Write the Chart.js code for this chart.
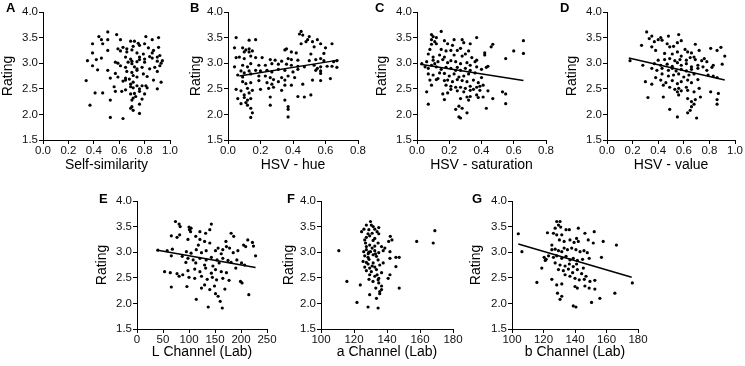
<!DOCTYPE html>
<html><head><meta charset="utf-8">
<script src="https://cdn.jsdelivr.net/npm/chart.js@4.4.1/dist/chart.umd.min.js"></script>
<style>
html,body{margin:0;padding:0;background:#fff;width:745px;height:366px;overflow:hidden;position:relative;}
canvas{position:absolute;}
.lbl{position:absolute;font:bold 13px 'Liberation Sans',Arial,sans-serif;line-height:13px;color:#000;}
</style></head><body>
<script>
// ---------- data ----------
const ratingTicks = [1.5, 2.0, 2.5, 3.0, 3.5, 4.0];
const selfSimTicks = [0, 0.2, 0.4, 0.6, 0.8, 1.0];
const hueTicks = [0, 0.2, 0.4, 0.6, 0.8];
const satTicks = [0, 0.2, 0.4, 0.6, 0.8];
const valueTicks = [0, 0.2, 0.4, 0.6, 0.8, 1.0];
const lTicks = [0, 50, 100, 150, 200, 250];
const aTicks = [100, 120, 140, 160, 180];
const bTicks = [100, 120, 140, 160, 180];

const panelLetters = ['A','B','C','D','E','F','G'];
const xTitles = ['Self-similarity','HSV - hue','HSV - saturation','HSV - value','L Channel (Lab)','a Channel (Lab)','b Channel (Lab)'];
const yTitle = 'Rating';

const ptsA = [
[0.51,3.61],[0.44,3.52],[0.58,3.56],[0.46,3.46],[0.51,3.46],[0.81,3.52],[0.91,3.50],[0.61,3.46],
[0.39,3.38],[0.47,3.38],[0.69,3.43],[0.72,3.43],[0.75,3.39],[0.86,3.46],[0.80,3.38],
[0.51,3.25],[0.59,3.28],[0.63,3.31],[0.66,3.28],[0.71,3.33],[0.76,3.35],[0.83,3.30],[0.91,3.31],[0.70,3.26],
[0.39,3.20],[0.61,3.24],[0.66,3.22],[0.74,3.20],[0.79,3.18],[0.86,3.20],[0.87,3.25],
[0.42,3.07],[0.46,3.10],[0.65,3.12],[0.69,3.08],[0.76,3.12],[0.84,3.13],[0.80,3.08],[0.86,3.10],[0.90,3.12],[0.92,3.15],
[0.35,3.05],[0.57,3.02],[0.59,3.00],[0.67,3.02],[0.70,3.04],[0.76,3.07],[0.80,3.02],[0.90,3.04],[0.93,3.00],[0.94,3.05],[0.70,2.99],[0.74,3.03],
[0.39,2.95],[0.43,2.87],[0.61,2.95],[0.65,2.92],[0.72,2.93],[0.74,2.89],[0.78,2.92],[0.84,2.89],[0.88,2.92],[0.92,2.95],
[0.51,2.86],[0.57,2.80],[0.66,2.84],[0.70,2.82],[0.74,2.86],[0.79,2.79],[0.90,2.84],
[0.53,2.71],[0.59,2.73],[0.65,2.71],[0.68,2.69],[0.71,2.76],[0.74,2.73],[0.82,2.74],[0.87,2.67],[0.65,2.67],
[0.34,2.66],[0.63,2.65],[0.69,2.59],[0.71,2.63],[0.93,2.63],[0.74,2.56],[0.78,2.56],[0.81,2.56],
[0.56,2.54],[0.65,2.48],[0.71,2.52],[0.76,2.50],[0.82,2.52],[0.90,2.50],[0.69,2.54],
[0.41,2.42],[0.47,2.42],[0.57,2.45],[0.62,2.45],[0.69,2.40],[0.72,2.41],[0.76,2.45],[0.80,2.40],
[0.53,2.28],[0.71,2.32],[0.73,2.35],[0.70,2.28],[0.78,2.30],
[0.37,2.18],[0.76,2.20],[0.70,2.15],[0.69,2.12],[0.71,2.08],[0.76,2.02],[0.53,1.94],[0.63,1.92]
];
const ptsB = [
[0.45,3.62],[0.44,3.57],[0.46,3.55],[0.50,3.52],[0.49,3.46],[0.05,3.50],[0.13,3.45],[0.17,3.46],[0.55,3.46],[0.52,3.42],[0.48,3.42],[0.57,3.38],[0.64,3.38],[0.45,3.38],
[0.04,3.30],[0.09,3.30],[0.11,3.26],[0.13,3.28],[0.15,3.24],[0.13,3.22],[0.10,3.22],[0.35,3.26],[0.36,3.28],[0.39,3.22],[0.53,3.32],[0.60,3.30],[0.42,3.20],[0.51,3.18],[0.59,3.19],
[0.05,3.11],[0.07,3.12],[0.10,3.09],[0.14,3.14],[0.17,3.11],[0.21,3.11],[0.26,3.07],[0.29,3.06],[0.33,3.04],[0.37,3.09],[0.39,3.07],[0.43,3.06],[0.50,3.05],[0.54,3.07],[0.59,3.05],[0.57,3.09],[0.65,3.03],[0.67,3.05],
[0.04,2.93],[0.09,2.96],[0.12,2.93],[0.14,2.99],[0.19,2.96],[0.23,2.96],[0.27,2.99],[0.31,2.98],[0.36,2.98],[0.39,2.96],[0.43,2.94],[0.47,2.93],[0.53,2.96],[0.57,2.93],[0.61,2.94],[0.64,2.94],[0.67,2.92],[0.55,2.90],
[0.08,2.85],[0.10,2.81],[0.13,2.85],[0.17,2.86],[0.20,2.85],[0.24,2.86],[0.27,2.83],[0.31,2.88],[0.35,2.86],[0.40,2.83],[0.43,2.88],[0.54,2.86],[0.57,2.85],[0.57,2.80],
[0.06,2.77],[0.09,2.73],[0.14,2.79],[0.19,2.75],[0.23,2.75],[0.26,2.72],[0.28,2.68],[0.33,2.72],[0.37,2.75],[0.41,2.72],[0.35,2.67],
[0.09,2.64],[0.11,2.60],[0.14,2.62],[0.19,2.66],[0.24,2.62],[0.27,2.59],[0.31,2.64],[0.35,2.57],[0.39,2.57],[0.46,2.59],[0.57,2.66],[0.52,2.67],[0.63,2.70],
[0.05,2.49],[0.08,2.46],[0.12,2.51],[0.15,2.47],[0.20,2.49],[0.25,2.51],[0.28,2.53],[0.33,2.47],[0.13,2.42],[0.10,2.38],
[0.06,2.31],[0.10,2.33],[0.12,2.28],[0.14,2.31],[0.26,2.34],[0.43,2.35],[0.47,2.34],[0.51,2.38],[0.35,2.28],
[0.08,2.21],[0.11,2.23],[0.26,2.18],[0.37,2.15],[0.37,2.10],[0.14,2.12],[0.12,2.18],
[0.15,2.03],[0.14,1.94],[0.37,1.95]
];
const ptsC = [
[0.15,3.62],[0.09,3.56],[0.10,3.52],[0.09,3.46],[0.12,3.50],[0.11,3.42],[0.17,3.44],[0.23,3.46],[0.28,3.46],[0.37,3.50],[0.29,3.40],[0.19,3.38],[0.66,3.44],[0.22,3.35],[0.33,3.38],[0.09,3.37],[0.12,3.38],
[0.08,3.27],[0.15,3.27],[0.18,3.24],[0.21,3.25],[0.25,3.25],[0.27,3.29],[0.32,3.24],[0.47,3.37],[0.46,3.32],[0.42,3.20],[0.60,3.24],[0.66,3.19],
[0.07,3.18],[0.10,3.12],[0.14,3.16],[0.17,3.12],[0.23,3.16],[0.28,3.14],[0.30,3.18],[0.34,3.11],[0.42,3.16],[0.55,3.09],[0.37,3.06],
[0.03,2.99],[0.06,3.03],[0.10,3.06],[0.13,3.03],[0.16,3.07],[0.19,3.01],[0.21,3.05],[0.24,3.03],[0.27,2.99],[0.31,3.01],[0.36,3.03],[0.33,2.96],[0.09,2.96],[0.11,2.99],
[0.05,2.93],[0.07,2.90],[0.12,2.93],[0.15,2.88],[0.18,2.92],[0.21,2.90],[0.24,2.86],[0.25,2.92],[0.30,2.90],[0.33,2.86],[0.37,2.93],[0.40,2.88],[0.43,2.92],[0.44,2.94],[0.27,2.86],
[0.07,2.79],[0.10,2.77],[0.14,2.81],[0.17,2.80],[0.20,2.75],[0.23,2.79],[0.26,2.73],[0.29,2.75],[0.32,2.79],[0.36,2.81],[0.13,2.70],
[0.08,2.67],[0.12,2.68],[0.17,2.66],[0.19,2.67],[0.22,2.64],[0.25,2.68],[0.28,2.66],[0.31,2.64],[0.35,2.67],[0.38,2.62],[0.40,2.72],
[0.09,2.57],[0.18,2.57],[0.21,2.55],[0.24,2.53],[0.27,2.53],[0.33,2.55],[0.37,2.53],[0.39,2.55],[0.41,2.57],[0.30,2.51],
[0.06,2.44],[0.21,2.49],[0.25,2.46],[0.29,2.44],[0.33,2.47],[0.35,2.49],[0.39,2.47],[0.44,2.46],[0.53,2.44],[0.16,2.40],[0.19,2.42],
[0.17,2.29],[0.27,2.31],[0.31,2.34],[0.33,2.35],[0.37,2.38],[0.38,2.33],[0.41,2.34],[0.47,2.31],[0.55,2.40],[0.32,2.28],
[0.07,2.20],[0.55,2.21],[0.26,2.16],[0.24,2.10],[0.28,2.12],[0.43,2.12],
[0.31,2.03],[0.26,1.95],[0.27,1.93]
];
const ptsD = [
[0.31,3.61],[0.35,3.53],[0.33,3.48],[0.40,3.46],[0.42,3.50],[0.43,3.45],[0.48,3.53],[0.56,3.56],[0.37,3.42],[0.47,3.38],[0.52,3.33],[0.35,3.32],[0.69,3.37],[0.55,3.40],[0.58,3.44],
[0.27,3.35],[0.38,3.25],[0.49,3.32],[0.61,3.27],[0.81,3.29],[0.89,3.31],[0.86,3.25],
[0.45,3.19],[0.51,3.18],[0.55,3.22],[0.63,3.22],[0.66,3.20],[0.72,3.25],[0.58,3.14],[0.92,3.14],[0.68,3.12],
[0.18,3.05],[0.40,3.06],[0.45,3.07],[0.49,3.09],[0.53,3.05],[0.57,3.07],[0.62,3.06],[0.65,3.11],[0.69,3.07],[0.74,3.05],[0.76,3.09],[0.78,3.03],
[0.28,2.96],[0.37,2.99],[0.42,2.96],[0.47,2.98],[0.51,2.94],[0.55,3.01],[0.58,2.96],[0.62,2.99],[0.66,2.93],[0.71,2.96],[0.75,2.93],[0.90,2.98],[0.83,2.96],
[0.35,2.90],[0.39,2.86],[0.43,2.90],[0.48,2.86],[0.51,2.90],[0.54,2.85],[0.58,2.88],[0.62,2.85],[0.66,2.88],[0.71,2.90],[0.78,2.86],[0.82,2.92],
[0.43,2.79],[0.48,2.75],[0.52,2.77],[0.56,2.79],[0.60,2.73],[0.64,2.77],[0.68,2.79],[0.79,2.77],[0.83,2.75],[0.86,2.72],[0.38,2.72],
[0.30,2.64],[0.42,2.67],[0.46,2.62],[0.51,2.66],[0.55,2.60],[0.58,2.64],[0.63,2.67],[0.66,2.62],[0.71,2.68],[0.44,2.57],[0.35,2.59],
[0.49,2.53],[0.53,2.49],[0.56,2.51],[0.58,2.46],[0.63,2.47],[0.62,2.53],[0.68,2.44],[0.72,2.51],[0.81,2.44],[0.87,2.41],[0.55,2.44],
[0.32,2.33],[0.44,2.34],[0.56,2.38],[0.63,2.31],[0.69,2.29],[0.73,2.34],[0.86,2.29],[0.66,2.25],
[0.86,2.20],[0.68,2.20],[0.66,2.15],[0.49,2.10],[0.65,2.08],
[0.63,2.03],[0.55,1.95],[0.70,1.93]
];
const ptsE = [
[74,3.60],[81,3.55],[83,3.50],[100,3.49],[101,3.44],[104,3.47],[103,3.40],[143,3.55],[121,3.40],[132,3.37],[140,3.44],[113,3.31],[66,3.32],[77,3.29],[82,3.34],
[181,3.37],[186,3.31],[171,3.21],[98,3.25],[121,3.25],[130,3.21],[140,3.18],[118,3.14],[213,3.24],[222,3.19],[205,3.14],
[40,3.04],[58,3.03],[68,3.06],[95,3.01],[114,3.05],[124,2.99],[133,3.03],[151,3.03],[156,3.08],[165,3.05],[172,3.11],[178,3.08],[194,3.03],[209,3.11],[224,3.12],[228,2.93],[185,2.99],[104,2.98],[162,2.97],
[66,2.93],[87,2.92],[98,2.88],[108,2.85],[121,2.88],[133,2.85],[143,2.90],[154,2.85],[165,2.88],[175,2.84],[94,2.80],[113,2.79],[130,2.75],[146,2.73],[158,2.79],[181,2.80],[192,2.85],[201,2.79],[207,2.75],
[53,2.62],[64,2.60],[77,2.58],[88,2.56],[98,2.64],[111,2.67],[121,2.62],[132,2.69],[143,2.59],[151,2.66],[162,2.62],[172,2.60],[190,2.69],[100,2.51],
[111,2.49],[124,2.53],[135,2.47],[145,2.51],[153,2.46],[165,2.49],[177,2.45],[199,2.43],[202,2.40],[81,2.53],[66,2.32],[96,2.33],[124,2.30],[140,2.27],[149,2.34],[169,2.28],[130,2.36],
[151,2.19],[156,2.14],[215,2.17],[114,2.08],[160,2.04],[137,1.93],[164,1.91]
];
const ptsF = [
[130,3.60],[127.5,3.53],[131.6,3.50],[135,3.48],[126,3.45],[129,3.44],[134,3.40],[124.6,3.40],[128.5,3.36],[131,3.37],[135,3.36],[127.5,3.29],[129.5,3.32],[132.6,3.27],[126.5,3.24],[131.6,3.23],
[142,3.31],[143,3.24],[141,3.21],[134.6,3.18],[129.5,3.14],[132.6,3.12],[127.5,3.11],[136.7,3.11],[138.7,3.08],[158,3.21],[169,3.42],[168,3.18],
[110.8,3.03],[127.5,3.05],[130,3.01],[132.6,3.03],[135,2.99],[137.7,3.03],[128.6,2.97],[131.6,2.95],[126.5,2.93],[133.6,2.92],[141.8,3.01],[141.8,2.88],[145.4,2.90],[147.4,2.90],[129.1,2.86],[134.6,2.85],[125.5,2.82],
[128.5,2.77],[131.6,2.79],[135.6,2.75],[126.5,2.71],[129.5,2.69],[132.6,2.71],[145.4,2.72],[127.5,2.64],[130.5,2.62],[133.6,2.66],[136.7,2.60],[129.5,2.56],[132.6,2.53],[141.8,2.56],[140.7,2.49],[129.1,2.47],[134.6,2.46],
[115.7,2.43],[135,2.40],[123.8,2.36],[136.7,2.34],[133.2,2.30],[147.4,2.30],[135.6,2.23],[129.5,2.17],[135.6,2.19],[133.6,2.10],[121.8,2.02],[128.5,1.93],[134.6,1.91],
[130.5,3.53],[132.6,3.45],[127,3.18],[131,3.08],[129,3.00],[133,2.97],[127.5,2.80],[131,2.73],[134,2.56],[131.5,2.43],[135,2.49],[136.7,2.27],[137.7,2.79],[125.9,3.01],[128.5,2.90]
];
const ptsG = [
[104,3.36],[106.3,3.01],[115.8,2.41],[118.9,2.69],[120.4,2.90],[121.7,2.86],[121.1,2.84],[122.5,3.38],[125.3,2.47],[125.3,3.14],
[128.4,3.60],[130.5,3.60],[129.5,3.53],[127.4,3.47],[130.9,3.49],[126.3,3.37],[128.4,3.34],[131.6,3.34],[134.3,3.44],[136.4,3.44],[142.1,3.47],[130.1,3.24],[133.1,3.21],[136.8,3.24],[139.4,3.19],[141,3.27],[142.1,3.21],[146.3,3.37],[152.2,3.40],[157.9,3.21],[166.3,3.14],[148.4,3.24],[151.6,3.18],
[125.3,3.05],[127.4,3.06],[129.5,3.03],[131.6,3.01],[133.1,3.08],[135.2,3.05],[137.9,3.08],[140.6,3.05],[143.2,3.01],[145.7,3.03],[147.8,2.99],[123.2,2.93],[126.3,2.90],[128.4,2.93],[131.6,2.88],[134.3,2.92],[136.8,2.85],[138.9,2.88],[141.5,2.84],[144.8,2.86],[149,2.88],[156.8,2.90],
[127.4,2.79],[130.5,2.75],[133.7,2.73],[136.4,2.77],[138.9,2.72],[141,2.77],[145.3,2.69],[129.5,2.66],[132.6,2.64],[135.8,2.67],[138.5,2.60],[141.5,2.66],[144.2,2.58],[147,2.53],[133.7,2.56],[136.8,2.53],[140,2.49],
[142.7,2.46],[145.9,2.47],[149.5,2.43],[152.6,2.45],[128.4,2.36],[131.6,2.38],[140,2.33],[141.5,2.30],[146.3,2.34],[149,2.30],[152.6,2.28],[128.9,2.20],[131.6,2.14],[130.5,2.08],[155.8,2.10],[150.5,2.02],[165.3,2.20],[176.4,2.40],[138.9,1.95],[140.6,1.93]
];

// regression lines (end points)
const fitB = [[0.07,2.75],[0.68,3.06]];
const fitC = [[0.02,2.98],[0.66,2.66]];
const fitD = [[0.17,3.10],[0.92,2.67]];
const fitE = [[40,3.04],[228,2.70]];
const fitG = [[104,3.16],[176,2.51]];

// ---------- assembly ----------
const panels = [
  {pts: ptsA, fit: null, xt: selfSimTicks, dec: 1},
  {pts: ptsB, fit: fitB, xt: hueTicks, dec: 1},
  {pts: ptsC, fit: fitC, xt: satTicks, dec: 1},
  {pts: ptsD, fit: fitD, xt: valueTicks, dec: 1},
  {pts: ptsE, fit: fitE, xt: lTicks, dec: 0},
  {pts: ptsF, fit: null, xt: aTicks, dec: 0},
  {pts: ptsG, fit: fitG, xt: bTicks, dec: 0}
];
// layout (pixels)
const boxes = [
  {left:0,   top:0,   w:184, h:174, yW:43, xH:34, pt:12, pr:14, lx:6,   ly:1},
  {left:188, top:0,   w:184, h:174, yW:40, xH:34, pt:12, pr:14, lx:190, ly:1},
  {left:374, top:0,   w:186, h:174, yW:43, xH:34, pt:12, pr:14, lx:375, ly:1},
  {left:564, top:0,   w:181, h:174, yW:43, xH:34, pt:12, pr:10, lx:560, ly:1},
  {left:94,  top:190, w:187, h:171, yW:43, xH:32, pt:11, pr:14, lx:99,  ly:192},
  {left:281, top:190, w:186, h:171, yW:40, xH:32, pt:11, pr:14, lx:287, ly:192},
  {left:468, top:190, w:184, h:171, yW:44, xH:32, pt:11, pr:14, lx:472, ly:192}
];
const FONT = "'Liberation Sans', Arial, sans-serif";

panels.forEach((p, i) => {
  const L = boxes[i];
  const c = document.createElement('canvas');
  c.width = L.w; c.height = L.h;
  c.style.left = L.left + 'px'; c.style.top = L.top + 'px';
  c.style.width = L.w + 'px'; c.style.height = L.h + 'px';
  document.body.appendChild(c);

  const lbl = document.createElement('div');
  lbl.className = 'lbl';
  lbl.textContent = panelLetters[i];
  lbl.style.left = L.lx + 'px'; lbl.style.top = L.ly + 'px';
  document.body.appendChild(lbl);

  const datasets = [{
    data: p.pts.map(([x, y]) => ({x, y})),
    pointRadius: 1.6, pointBackgroundColor: '#000', pointBorderWidth: 0, showLine: false
  }];
  if (p.fit) datasets.push({
    data: p.fit.map(([x, y]) => ({x, y})),
    showLine: true, borderColor: '#000', borderWidth: 1.5, pointRadius: 0
  });
  const gridCfg = {display: true, drawOnChartArea: false, drawTicks: true, tickLength: 4, color: '#000', lineWidth: 1};
  const borderCfg = {display: true, color: '#000', width: 1};
  new Chart(c, {
    type: 'scatter',
    data: {datasets},
    options: {
      responsive: false, animation: false, devicePixelRatio: 1,
      layout: {padding: {left: 0, top: L.pt, right: L.pr, bottom: 0}},
      plugins: {legend: {display: false}, tooltip: {enabled: false}},
      scales: {
        x: {
          type: 'linear', min: p.xt[0], max: p.xt[p.xt.length - 1],
          afterBuildTicks: s => { s.ticks = p.xt.map(v => ({value: v})); },
          afterFit: s => { s.height = L.xH; },
          ticks: {padding: 0, maxRotation: 0, autoSkip: false, font: {size: 11.5, family: FONT}, color: '#111',
                  callback: v => Number(v).toFixed(p.dec)},
          grid: gridCfg, border: borderCfg,
          title: {display: true, text: xTitles[i], font: {size: 14, family: FONT}, color: '#000', padding: 0}
        },
        y: {
          type: 'linear', min: ratingTicks[0], max: ratingTicks[ratingTicks.length - 1],
          afterBuildTicks: s => { s.ticks = ratingTicks.map(v => ({value: v})); },
          afterFit: s => { s.width = L.yW; },
          ticks: {padding: 1, autoSkip: false, font: {size: 11.5, family: FONT}, color: '#111',
                  callback: v => Number(v).toFixed(1)},
          grid: gridCfg, border: borderCfg,
          title: {display: true, text: yTitle, font: {size: 14, family: FONT}, color: '#000', padding: 0}
        }
      }
    }
  });
});
</script>
</body></html>
